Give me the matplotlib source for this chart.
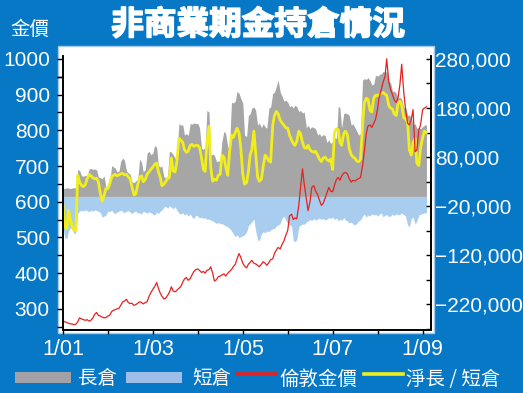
import matplotlib
matplotlib.use("Agg")
import matplotlib.pyplot as plt
import matplotlib.ticker as mticker
import matplotlib.dates as mdates
import matplotlib.patheffects as pe
from matplotlib.patches import Rectangle
from matplotlib.lines import Line2D
import numpy as np
import pandas as pd

# semi-monthly readings, Jan 2001 - Feb 2009
dates = pd.date_range("2001-01-01", "2009-02-01", freq="SMS")

# non-commercial long positions (thousand contracts)
long_k = [
    17, 16, 18, 17, 16, 17, 18, 17, 55, 53, 42, 41, 43, 42, 56, 57, 55, 56, 54, 40, 38, 36, 42, 20,  # 2001
    16, 30, 63, 60, 58, 50, 52, 72, 78, 74, 52, 48, 45, 30, 28, 32, 35, 76, 70, 50, 55, 88, 92, 85,  # 2002
    88, 104, 100, 63, 60, 62, 40, 38, 42, 92, 90, 85, 78, 80, 149, 145, 146, 125, 128, 124, 149, 147, 150, 148,  # 2003
    149, 140, 98, 96, 100, 175, 172, 84, 86, 84, 71, 72, 73, 112, 133, 128, 100, 102, 192, 190, 194, 214, 210, 200,  # 2004
    190, 125, 122, 165, 168, 180, 182, 176, 145, 150, 140, 148, 142, 139, 180, 182, 210, 212, 225, 237, 212, 205, 194, 196,  # 2005
    192, 183, 185, 180, 186, 183, 173, 175, 170, 172, 140, 145, 138, 142, 140, 138, 125, 128, 122, 126, 124, 110, 115, 108,  # 2006
    112, 120, 118, 184, 180, 139, 169, 170, 168, 165, 145, 148, 140, 133, 125, 128, 237, 240, 238, 242, 236, 227, 229, 247,  # 2007
    245, 248, 250, 255, 252, 255, 235, 232, 214, 215, 210, 200, 202, 198, 180, 182, 165, 166, 160, 145, 148, 139, 140, 138,  # 2008
    142, 145, 146,  # 2009
]

# non-commercial short positions (thousand contracts)
short_k = [
    -62, -84, -86, -70, -64, -66, -76, -74, -34, -30, -28, -30, -27, -29, -31, -28, -30, -27, -29, -30, -33, -42, -40, -38,
    -30, -31, -28, -33, -35, -32, -30, -28, -31, -33, -30, -29, -32, -35, -31, -30, -34, -33, -36, -30, -32, -34, -31, -33,
    -36, -38, -32, -35, -30, -28, -22, -20, -24, -19, -22, -25, -21, -28, -34, -36, -33, -38, -35, -40, -36, -42, -45, -38,
    -40, -44, -42, -45, -43, -47, -46, -48, -50, -52, -55, -53, -56, -55, -58, -60, -62, -65, -70, -76, -82, -78, -84, -82,
    -80, -78, -72, -60, -56, -52, -46, -70, -88, -90, -76, -72, -74, -70, -72, -68, -66, -65, -60, -58, -55, -45, -40, -48,
    -55, -58, -60, -90, -92, -88, -62, -58, -56, -57, -52, -50, -47, -49, -45, -48, -46, -44, -47, -45, -48, -46, -43, -45,
    -42, -47, -44, -50, -46, -49, -43, -48, -50, -54, -52, -56, -58, -55, -50, -48, -40, -36, -42, -38, -40, -35, -38, -36,
    -40, -36, -34, -42, -38, -37, -41, -40, -36, -39, -35, -38, -36, -34, -37, -40, -58, -62, -45, -42, -56, -50, -38, -36,
    -35, -33, -34,
]

# net long / short (thousand contracts)
net_k = [
    -18, -62, -66, -28, -45, -60, -70, -68, 43, 30, 22, 20, 24, 35, 45, 42, 38, 36, 37, 30, 5, -10, 2, 16,
    16, 25, 40, 43, 45, 42, 44, 46, 47, 44, 45, 40, 35, 20, 3, 5, 25, 38, 42, 30, 35, 45, 50, 55,
    60, 65, 68, 50, 40, 22, 25, 30, 37, 38, 78, 52, 50, 70, 118, 115, 110, 95, 90, 92, 104, 106, 102, 104,
    104, 100, 78, 55, 51, 110, 143, 60, 31, 35, 33, 43, 45, 84, 80, 60, 43, 90, 125, 120, 130, 139, 130, 100,
    45, 25, 28, 50, 84, 95, 133, 90, 40, 31, 35, 60, 84, 80, 72, 70, 145, 165, 173, 168, 155, 150, 145, 140,
    139, 125, 115, 108, 104, 112, 133, 128, 110, 100, 98, 104, 95, 92, 90, 92, 84, 76, 71, 78, 80, 75, 72, 76,
    55, 130, 138, 136, 110, 104, 128, 133, 125, 98, 85, 80, 78, 72, 71, 75, 145, 190, 200, 198, 175, 172, 200, 206,
    205, 208, 210, 212, 208, 206, 185, 180, 178, 168, 165, 190, 194, 185, 160, 158, 150, 95, 84, 110, 118, 68, 63, 98,
    120, 133, 130,
]

# London gold price (US$/oz)
gold = [
    266, 264, 262, 260, 258, 258, 256, 257, 264, 275, 272, 270, 268, 270, 266, 268, 275, 285, 290, 282, 280, 277, 275, 276,
    280, 282, 293, 296, 298, 300, 302, 310, 320, 322, 327, 318, 315, 316, 310, 312, 316, 320, 318, 314, 318, 320, 335, 345,
    355, 362, 374, 358, 345, 336, 328, 330, 338, 346, 362, 350, 348, 352, 358, 362, 375, 384, 388, 380, 385, 395, 405, 410,
    412, 408, 402, 405, 400, 408, 410, 418, 400, 378, 382, 390, 392, 395, 398, 392, 400, 405, 410, 418, 425, 440, 455, 445,
    428, 420, 415, 425, 430, 436, 428, 426, 422, 418, 425, 432, 428, 422, 430, 438, 440, 455, 465, 472, 468, 480, 490, 505,
    520, 560, 565, 550, 555, 552, 590, 640, 692, 650, 610, 575, 600, 640, 645, 630, 620, 605, 590, 595, 610, 625, 640, 630,
    628, 645, 663, 668, 660, 672, 680, 682, 678, 665, 655, 660, 658, 662, 665, 668, 700, 740, 790, 812, 815, 808, 820, 830,
    860, 895, 915, 935, 950, 1000, 935, 915, 900, 885, 878, 890, 930, 985, 905, 860, 820, 815, 830, 858, 740, 745, 800, 815,
    858, 862, 866,
]

year_ticks = ["1/01", "", "1/03", "", "1/05", "", "1/07", "", "1/09"]
gold_ticks = [300, 400, 500, 600, 700, 800, 900, 1000]
pos_ticks = [-220000, -120000, -20000, 80000, 180000, 280000]
legend_labels = ["長倉", "短倉", "倫敦金價", "淨長 / 短倉"]

long_pos = np.array(long_k) * 1000
short_pos = np.array(short_k) * 1000
net_pos = np.array(net_k) * 1000

BG = "#0678c6"
GRAY = "#a6a6a6"
BLUE = "#a8cdef"
RED = "#e82020"
YELLOW = "#f2ee1c"
cjk = ["Noto Sans CJK TC", "DejaVu Sans"]
num_font = ["Liberation Sans", "DejaVu Sans"]

W, H = 523, 393


def fx(x):
    return x / W


def fy(y):
    return 1 - y / H


fig = plt.figure(figsize=(W / 100, H / 100), dpi=100, facecolor=BG)
fig.add_artist(Rectangle((fx(58), fy(333)), 376 / W, 287 / H, transform=fig.transFigure,
                         facecolor="white", edgecolor="#a8c8e8", lw=1, zorder=-1))

ax = fig.add_axes([fx(63), fy(330), (431 - 63) / W, (330 - 56) / H])
ax2 = ax.twinx()
ax.set_facecolor("white")

# positions on the host axes (right scale)
ax.fill_between(dates, 0, long_pos, color=GRAY, lw=0)
ax.fill_between(dates, short_pos, 0, color=BLUE, lw=0)
ax.plot(dates, net_pos, color=YELLOW, lw=2.0)
ax.set_ylim(-272000, 286000)
ax.yaxis.tick_right()
ax.yaxis.set_label_position("right")
ax.yaxis.set_major_locator(mticker.FixedLocator(pos_ticks))
ax.yaxis.set_minor_locator(mticker.FixedLocator([t + 50000 for t in pos_ticks] + [-270000]))
ax.yaxis.set_major_formatter(mticker.StrMethodFormatter("{x:,.0f}"))
ax.tick_params(axis="y", which="both", direction="in", length=3.5, width=1, colors="black",
               labelcolor="white", labelsize=15, pad=3)

# gold on the twin (left scale), drawn on top
ax2.plot(dates, gold, color=RED, lw=0.9)
ax2.set_ylim(241, 1008)
ax2.yaxis.tick_left()
ax2.yaxis.set_label_position("left")
ax2.yaxis.set_major_locator(mticker.FixedLocator(gold_ticks))
ax2.yaxis.set_minor_locator(mticker.FixedLocator([t - 50 for t in gold_ticks] + [950]))
ax2.tick_params(axis="y", which="both", direction="out", length=4, width=1, colors="black",
                labelcolor="white", labelsize=15, pad=5.5)

years = pd.date_range("2001-01-01", "2009-01-01", freq="YS")
ax.set_xlim(dates[0], pd.Timestamp("2009-03-10"))
ax.xaxis.set_major_locator(mticker.FixedLocator(mdates.date2num(years)))
ax.xaxis.set_major_formatter(mticker.FixedFormatter(year_ticks))
ax.tick_params(axis="x", direction="out", length=3, width=1, colors="black",
               labelcolor="white", labelsize=15.5, pad=3.5)

for a in (ax, ax2):
    a.spines["top"].set_visible(False)
    for s in ("left", "right", "bottom"):
        a.spines[s].set_color("black")
        a.spines[s].set_linewidth(1.2)
    for lab in a.get_xticklabels() + a.get_yticklabels():
        lab.set_family(num_font)

fig.text(fx(258), fy(25), "非商業期金持倉情況", ha="center", va="center",
         fontsize=23.5, weight="bold", color="white", family=cjk,
         path_effects=[pe.withStroke(linewidth=1.2, foreground="white")])
fig.text(fx(30), fy(29), "金價", ha="center", va="center", fontsize=14,
         color="white", family=cjk)

# legend
fig.add_artist(Rectangle((fx(15), fy(383)), 56 / W, 11 / H, transform=fig.transFigure,
                         color="#a3a1a8", lw=0))
fig.add_artist(Rectangle((fx(126), fy(383)), 56 / W, 11 / H, transform=fig.transFigure,
                         color="#9fbde9", lw=0))
fig.add_artist(Line2D([fx(237), fx(276)], [fy(373.5), fy(373.5)], transform=fig.transFigure,
                      color=RED, lw=2.6))
fig.add_artist(Line2D([fx(364), fx(403)], [fy(373.5), fy(373.5)], transform=fig.transFigure,
                      color=YELLOW, lw=2.6))
for x, lab in zip([78, 192, 279, 406], legend_labels):
    fig.text(fx(x), fy(379), lab, ha="left", va="center", fontsize=14, color="white", family=cjk)

fig.savefig("out.png", dpi=100, facecolor=BG)
